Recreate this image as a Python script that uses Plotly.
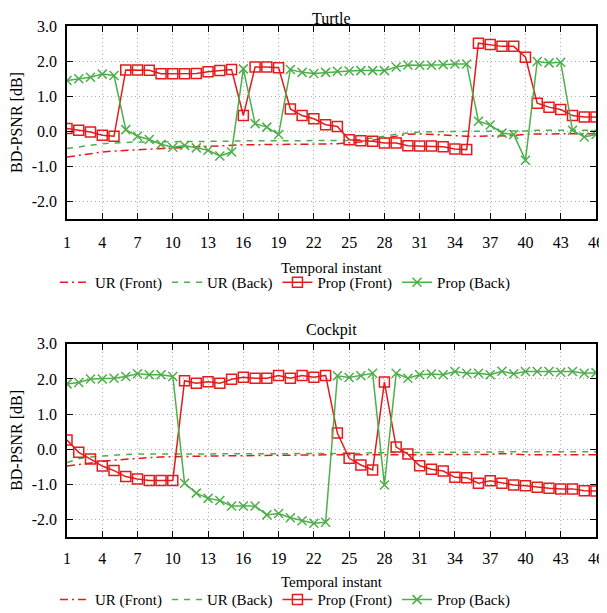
import plotly.graph_objects as go
from plotly.subplots import make_subplots

# instantes temporales
instantes = list(range(1, 47))

# Turtle
turtle_ur_front = [-0.73, -0.68, -0.63, -0.59, -0.56, -0.54, -0.52, -0.50, -0.48, -0.46,
                   -0.45, -0.44, -0.43, -0.41, -0.39, -0.38, -0.38, -0.38, -0.38, -0.38,
                   -0.37, -0.37, -0.36, -0.35, -0.33, -0.30, -0.25, -0.20, -0.14, -0.08,
                   -0.07, -0.09, -0.12, -0.14, -0.14, -0.14, -0.14, -0.14, -0.12, -0.08,
                   -0.07, -0.07, -0.07, -0.07, -0.07, -0.07]
turtle_ur_back = [-0.49, -0.44, -0.39, -0.35, -0.33, -0.31, -0.30, -0.30, -0.30, -0.30,
                  -0.30, -0.29, -0.29, -0.28, -0.28, -0.27, -0.27, -0.28, -0.28, -0.28,
                  -0.28, -0.28, -0.27, -0.27, -0.26, -0.23, -0.19, -0.14, -0.08, -0.04,
                  -0.02, -0.01, 0.00, 0.00, 0.00, 0.00, 0.00, 0.01, 0.01, 0.01,
                  0.03, 0.03, 0.03, 0.03, 0.03, 0.03]
turtle_prop_front = [0.08, 0.03, -0.02, -0.11, -0.14, 1.75, 1.75, 1.74, 1.64, 1.64,
                     1.64, 1.65, 1.70, 1.73, 1.76, 0.45, 1.83, 1.83, 1.81, 0.64,
                     0.45, 0.36, 0.19, 0.14, -0.24, -0.27, -0.28, -0.33, -0.33, -0.41,
                     -0.42, -0.42, -0.44, -0.50, -0.52, 2.51, 2.47, 2.42, 2.42, 2.11,
                     0.80, 0.69, 0.62, 0.45, 0.41, 0.41]
turtle_prop_back = [1.45, 1.50, 1.54, 1.63, 1.59, 0.05, -0.14, -0.23, -0.37, -0.45,
                    -0.40, -0.47, -0.54, -0.70, -0.59, 1.78, 0.22, 0.12, -0.09, 1.76,
                    1.68, 1.65, 1.68, 1.71, 1.72, 1.73, 1.73, 1.73, 1.83, 1.89,
                    1.88, 1.88, 1.90, 1.92, 1.92, 0.29, 0.18, -0.05, -0.09, -0.82,
                    1.99, 1.95, 1.97, 0.03, -0.16, -0.09]

# Cockpit
cockpit_ur_front = [-0.48, -0.43, -0.39, -0.35, -0.31, -0.28, -0.26, -0.24, -0.22, -0.21,
                    -0.20, -0.20, -0.20, -0.19, -0.19, -0.18, -0.18, -0.17, -0.17, -0.17,
                    -0.16, -0.16, -0.16, -0.16, -0.16, -0.16, -0.16, -0.16, -0.16, -0.16,
                    -0.16, -0.16, -0.16, -0.16, -0.16, -0.16, -0.15, -0.12, -0.15, -0.16,
                    -0.16, -0.16, -0.16, -0.16, -0.16, -0.16]
cockpit_ur_back = [-0.38, -0.27, -0.22, -0.19, -0.16, -0.15, -0.14, -0.14, -0.14, -0.14,
                   -0.14, -0.14, -0.13, -0.13, -0.13, -0.13, -0.13, -0.13, -0.13, -0.13,
                   -0.13, -0.13, -0.13, -0.13, -0.12, -0.12, -0.10, -0.10, -0.10, -0.09,
                   -0.09, -0.08, -0.08, -0.08, -0.08, -0.08, -0.08, -0.07, -0.07, -0.07,
                   -0.07, -0.07, -0.07, -0.07, -0.07, -0.07]
cockpit_prop_front = [0.26, -0.09, -0.28, -0.48, -0.61, -0.78, -0.85, -0.89, -0.89, -0.89,
                      1.95, 1.88, 1.92, 1.88, 1.99, 2.05, 2.02, 2.02, 2.10, 2.02,
                      2.10, 2.05, 2.10, 0.46, -0.26, -0.45, -0.59, 1.91, 0.06, -0.14,
                      -0.47, -0.57, -0.62, -0.80, -0.81, -0.97, -0.90, -0.97, -1.02, -1.04,
                      -1.08, -1.11, -1.13, -1.13, -1.18, -1.19]
cockpit_prop_back = [1.86, 1.90, 2.00, 2.00, 2.02, 2.07, 2.15, 2.12, 2.12, 2.07,
                     -0.97, -1.25, -1.40, -1.46, -1.62, -1.62, -1.62, -1.87, -1.83, -1.95,
                     -2.04, -2.11, -2.08, 2.09, 2.04, 2.09, 2.16, -1.02, 2.16, 2.02,
                     2.12, 2.14, 2.12, 2.21, 2.16, 2.16, 2.12, 2.22, 2.15, 2.21,
                     2.21, 2.21, 2.19, 2.21, 2.16, 2.18]

y_ticks = [-2, -1, 0, 1, 2, 3]
y_ticktext = ['-2.0', '-1.0', '0.0', '1.0', '2.0', '3.0']

ROJO = '#E41A1C'
VERDE = '#4DAF4A'
FUENTE = 'Liberation Serif, Times New Roman, Times, serif'
letra = dict(family=FUENTE, size=16, color='black')
letra_chica = dict(family=FUENTE, size=15, color='black')

fig = make_subplots(rows=2, cols=1)

datos = [
    (1, 'legend', turtle_ur_front, turtle_ur_back, turtle_prop_front, turtle_prop_back),
    (2, 'legend2', cockpit_ur_front, cockpit_ur_back, cockpit_prop_front, cockpit_prop_back),
]

for fila, ley, urf, urb, pf, pb in datos:
    fig.add_trace(go.Scatter(x=instantes, y=urf, mode='lines', name='UR (Front)', legend=ley,
                             line=dict(color=ROJO, width=1.5, dash='8px,4px,2px,4px')),
                  row=fila, col=1)
    fig.add_trace(go.Scatter(x=instantes, y=urb, mode='lines', name='UR (Back)', legend=ley,
                             line=dict(color=VERDE, width=1.5, dash='6px,6px')),
                  row=fila, col=1)
    fig.add_trace(go.Scatter(x=instantes, y=pf, mode='lines+markers', name='Prop (Front)', legend=ley,
                             line=dict(color=ROJO, width=1.5),
                             marker=dict(symbol='square-open', size=10, color=ROJO,
                                         line=dict(width=1.5, color=ROJO))),
                  row=fila, col=1)
    fig.add_trace(go.Scatter(x=instantes, y=pb, mode='lines+markers', name='Prop (Back)', legend=ley,
                             line=dict(color=VERDE, width=1.5),
                             marker=dict(symbol='x-thin-open', size=9, color=VERDE,
                                         line=dict(width=1.5, color=VERDE))),
                  row=fila, col=1)

rejilla = dict(showgrid=True, gridcolor='#b0b0b0', griddash='1px,3px', gridwidth=1)

fig.update_xaxes(range=[1, 46], tick0=1, dtick=3, ticks='inside', ticklen=6, tickcolor='black',
                 showline=True, linecolor='black', linewidth=1.5, mirror='ticks',
                 zeroline=False, ticklabelstandoff=8, ticklabeloverflow='allow',
                 automargin=False, tickfont=letra,
                 title=dict(text='Temporal instant', standoff=12, font=letra_chica), **rejilla)
fig.update_yaxes(range=[-2.5, 3.0], tickvals=y_ticks, ticktext=y_ticktext, ticks='inside', ticklen=6,
                 tickcolor='black', showline=True, linecolor='black', linewidth=1.5, mirror='ticks',
                 zeroline=False, ticklabelstandoff=5, automargin=False, tickfont=letra,
                 title=dict(text='BD-PSNR [dB]', standoff=5, font=letra), **rejilla)
fig.update_layout(yaxis=dict(domain=[0.622, 1.0]), yaxis2=dict(domain=[0.0, 0.378]),
                  xaxis2=dict(ticklabelstandoff=6, title=dict(standoff=11)))

leyenda = dict(orientation='h', xanchor='center', x=0.412, yanchor='middle', font=letra_chica,
               bgcolor='rgba(0,0,0,0)', itemwidth=30, tracegroupgap=0)

# la página añade 8 px de margen al cuerpo: se descuentan del tamaño
fig.update_layout(
    width=599, height=605,
    margin=dict(l=59, r=11, t=18, b=76, autoexpand=False),
    plot_bgcolor='white', paper_bgcolor='white',
    font=letra,
    legend=dict(leyenda, y=0.498),
    legend2=dict(leyenda, y=-0.123),
    annotations=[
        dict(text='Turtle', xref='paper', yref='paper', x=0.5, y=1.0, yanchor='middle', yshift=8,
             showarrow=False, font=letra),
        dict(text='Cockpit', xref='paper', yref='paper', x=0.5, y=0.378, yanchor='middle', yshift=14,
             showarrow=False, font=letra),
    ],
)

fig.write_html("out.html")
